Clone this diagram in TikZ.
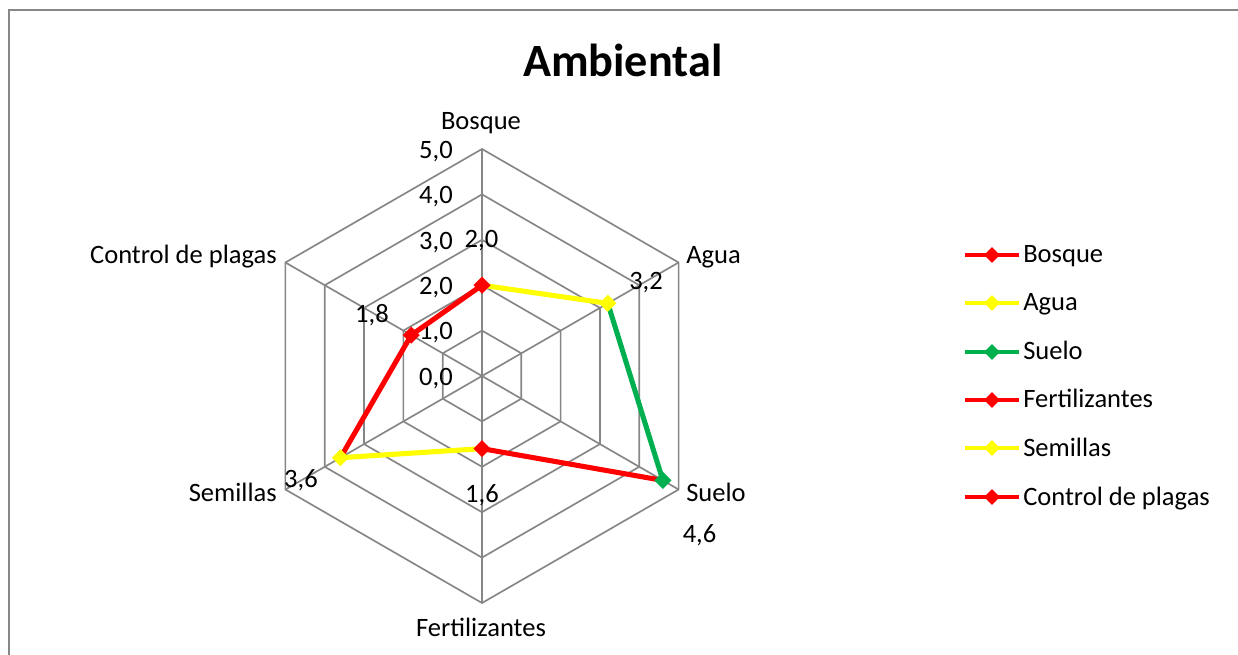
\documentclass[tikz,border=0pt]{standalone}
\usepackage{fontspec}
\setmainfont{Carlito}
\usetikzlibrary{shapes.geometric}
\definecolor{gridgray}{HTML}{868686}
\definecolor{framegray}{HTML}{878787}
\definecolor{sred}{HTML}{FF0000}
\definecolor{syellow}{HTML}{FFFF00}
\definecolor{sgreen}{HTML}{00B050}
\begin{document}
\begin{tikzpicture}[x=0.75pt,y=-0.75pt,
  grid/.style={draw=gridgray, line width=1.25pt},
  frameline/.style={draw=framegray, line width=1.7pt},
  lbl/.style={font=\fontsize{19.9}{24}\selectfont, inner sep=0pt, text=black},
  ttl/.style={font=\bfseries\fontsize{34.7}{40}\selectfont, inner sep=0pt},
  serie/.style={line width=3.8pt, line cap=round, line join=round},
  mk/.style={diamond, inner sep=0pt, minimum size=13pt, draw=none},
  legline/.style={line width=3.3pt},
  legmk/.style={diamond, inner sep=0pt, minimum size=12pt, draw=none}]
\useasboundingbox (0,0) rectangle (1238,655);
% frame
\draw[frameline] (9,660) -- (9,10) -- (1245,10);
% title
\node[ttl, anchor=base] (title) at (622.7,77) {Ambiental};
% grid
\begin{scope}[shift={(482,376)}]
  \foreach \k in {1,...,5}{
    \draw[grid] (-90:\k*45.4) -- (-30:\k*45.4) -- (30:\k*45.4) -- (90:\k*45.4) -- (150:\k*45.4) -- (210:\k*45.4) -- cycle;
  }
  \foreach \a in {-90,-30,30,90,150,210}{
    \draw[grid] (0,0) -- (\a:227);
  }
  \coordinate (pB) at (-90:2.0*45.4);
  \coordinate (pA) at (-30:3.2*45.4);
  \coordinate (pS) at (30:4.6*45.4);
  \coordinate (pF) at (90:1.6*45.4);
  \coordinate (pSe) at (150:3.6*45.4);
  \coordinate (pC) at (210:1.8*45.4);
\end{scope}
% value axis labels
\node[lbl, anchor=base east] (v5) at (453,158.3) {5,0};
\node[lbl, anchor=base east] (v4) at (453,203.7) {4,0};
\node[lbl, anchor=base east] (v3) at (453,249.1) {3,0};
\node[lbl, anchor=base east] (v2) at (453,294.5) {2,0};
\node[lbl, anchor=base east] (v1) at (453,339.9) {1,0};
\node[lbl, anchor=base east] (v0) at (453,385.3) {0,0};
% category labels
\node[lbl, anchor=base] (cB) at (481,130) {Bosque};
\node[lbl, anchor=base west] (cA) at (686,264) {Agua};
\node[lbl, anchor=base west] (cS) at (686,501) {Suelo};
\node[lbl, anchor=base] (cF) at (481,636) {Fertilizantes};
\node[lbl, anchor=base east] (cSe) at (277,501) {Semillas};
\node[lbl, anchor=base east] (cC) at (277,264) {Control de plagas};
% series lines
\draw[serie, draw=syellow] (pB) -- (pA);
\draw[serie, draw=sgreen] (pA) -- (pS);
\draw[serie, draw=sred] (pS) -- (pF);
\draw[serie, draw=syellow] (pF) -- (pSe);
\draw[serie, draw=sred] (pSe) -- (pC);
\draw[serie, draw=sred] (pC) -- (pB);
% markers
\node[mk, fill=sred] (mB) at (pB) {};
\node[mk, fill=syellow] (mA) at (pA) {};
\node[mk, fill=sgreen] (mS) at (pS) {};
\node[mk, fill=sred] (mF) at (pF) {};
\node[mk, fill=syellow] (mSe) at (pSe) {};
\node[mk, fill=sred] (mC) at (pC) {};
% data labels
\node[lbl, anchor=base] (dB) at (481.5,248) {2,0};
\node[lbl, anchor=base] (dA) at (646,290) {3,2};
\node[lbl, anchor=base] (dS) at (699.5,542) {4,6};
\node[lbl, anchor=base] (dF) at (482,502) {1,6};
\node[lbl, anchor=base] (dSe) at (301,488) {3,6};
\node[lbl, anchor=base] (dC) at (372,323) {1,8};
% legend
\foreach \y/\c/\t/\n in {255/sred/Bosque/1, 303/syellow/Agua/2, 352/sgreen/Suelo/3, 400/sred/Fertilizantes/4, 448/syellow/Semillas/5, 497/sred/Control de plagas/6}{
  \coordinate (la\n) at (965,\y);
  \coordinate (lb\n) at (1019,\y);
  \draw[legline, draw=\c] (la\n) -- (lb\n);
  \node[legmk, fill=\c] (lm\n) at (992,\y) {};
  \node[lbl, anchor=base west] (lt\n) at (1023,\y+8) {\t};
}
\end{tikzpicture}
\end{document}
